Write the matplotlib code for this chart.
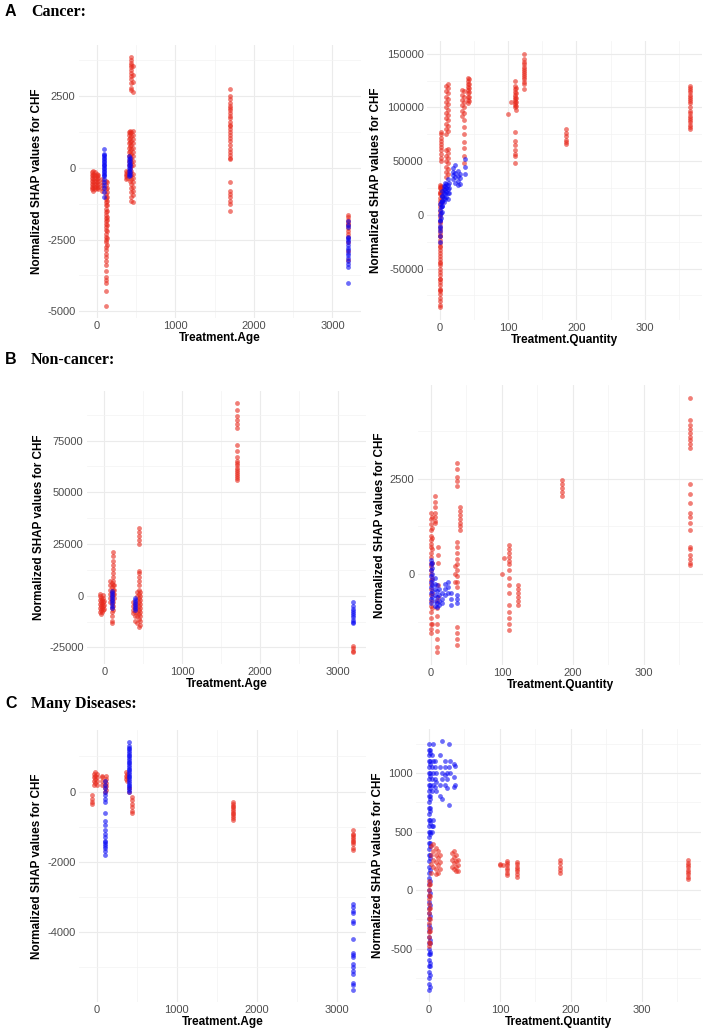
import numpy as np
import matplotlib
matplotlib.use("Agg")
import matplotlib.pyplot as plt
from matplotlib.ticker import MultipleLocator, FormatStrFormatter

plt.rcParams['font.family'] = ['Liberation Sans', 'DejaVu Sans']
plt.rcParams['axes.unicode_minus'] = False

RED = '#E8291C'
BLUE = '#0A0AF5'
W, H = 708, 1032

# ---- data: (x, [y values]) ----
# A: Cancer, Treatment.Age
a_age_red = [
    (-65, [-150, -250, -350, -450, -550, -650, -750]),
    (-45, [-100, -200, -300, -400, -500, -600, -700, -800]),
    (-25, [-150, -250, -350, -450, -550, -650, -750]),
    (-5, [-200, -300, -400, -500, -600, -700]),
    (15, [-250, -350, -450, -550, -650, -750]),
    (70, [-400, -500, -600, -700, -800]),
    (115, [-450, -600, -750, -900, -1000, -1100, -1200, -1300, -1450, -1550, -1650, -1750,
           -1850, -1950, -2050, -2150, -2300, -2400, -2500, -2600, -2750, -2850, -3000,
           -3100, -3250, -3400, -3600, -3800, -3900, -4000, -4300, -4800]),
    (130, [-500, -700, -850, -1000, -1150, -1300, -1500, -1700, -1800, -2000, -2200, -2450, -2700]),
    (370, [-100, -200, -300, -400]),
    (385, [-150, -250, -350]),
    (410, [100, 250, 400, 550, 700, 850, 1000, 1150, 1250, -100, -200]),
    (425, [0, 150, 300, 450, 600, 750, 900, 1050, 1200, 1300, -150, -300, -450]),
    (440, [50, 200, 350, 500, 650, 800, 950, 1100, 1250, -100, -250, -400, -550, -700, -850,
           -1000, -1150, 2700, 2800, 2950, 3100, 3200, 3300, 3400, 3500, 3600, 3650, 3750, 3850]),
    (455, [100, 250, 400, 550, 700, 850, 1000, 1150, 1300, -200, -350, -500, -650, -800, -950,
           -1200, 2650, 3000, 3250, 3550]),
    (1700, [2750, 2500, 2400, 2250, 2150, 2100, 2000, 1900, 1800, 1750, 1600, 1500, 1450, 1350,
            1250, 1150, 1050, 950, 800, 650, 550, 450, 350, 300, -500, -800, -900, -1000,
            -1150, -1250, -1500]),
    (3200, [-1650, -1720, -1800, -1870, -1950, -2000, -2100, -2200, -2300, -2400, -2600, -2900, -3200]),
]
a_age_blue = [
    (95, [650, 500, 450, 400, 350, 300, 250, 200, 150, 100, 50, 0, -50, -100, -150, -200, -250,
          -300, -400, -500, -600, -700, -850, -1000]),
    (405, [400, 300, 200, 100, 0, -100, -200, -300]),
    (415, [350, 250, 150, 50, -50, -150, -250]),
    (3200, [-1850, -2000, -2050, -2400, -2450, -2500, -2600, -2700, -2800, -2850, -2950, -3050,
            -3150, -3250, -3350, -3450, -4000]),
]

# A: Cancer, Treatment.Quantity
a_qty_red = [
    (0, [-86000, -83500, -80000, -77500, -74000, -71000, -68500, -65000, -62000, -59500, -56000,
         -53000, -50500, -47000, -44000, -41500, -38000, -35000, -32500, -29000, -26000, -23500,
         -20000, -17000, -14500, -11000, -8000, -5500, -2000, 1000, 3500, 7000, 10000, 12500,
         16000, 19000, 21500, 25000, 28000]),
    (1, [-70000, -60000, -45000, -30000, -20000, 20000, 26000]),
    (2, [50000, 53000, 57000, 60000, 63000, 66000, 69000, 72000, 75000, 77000, 20000, 24000, 27000]),
    (4, [12000, 17000, 22000, 26000]),
    (10, [75000, 80000, 85000, 90000, 95000, 100000, 105000, 110000, 115000, 120000,
          35000, 40000, 45000, 50000, 55000, 60000]),
    (12, [78000, 83000, 88000, 93000, 98000, 103000, 108000, 113000, 118000, 122000,
          38000, 43000, 48000, 53000, 58000, 61000]),
    (33, [92000, 97000, 102000, 107000, 112000, 116000]),
    (36, [95000, 100000, 105000, 110000, 115000, 88000, 82000, 75000, 68000, 62000, 55000, 48000]),
    (41, [104000, 107000, 110000, 113000, 116000, 119000, 122000, 125000, 127000]),
    (43, [106000, 110000, 114000, 118000, 122000, 126000]),
    (100, [94000]),
    (104, [105000]),
    (110, [125000, 120000, 117000, 114000, 112000, 110000, 108000, 106000, 104000, 102000, 100000,
           77000, 69000, 65000, 60000, 57000, 55000, 48000]),
    (112, [118000, 113000, 109000, 105000, 101000, 98000]),
    (124, [150000, 145000, 142000, 140000, 138000, 136000, 134000, 132000, 130000, 128000, 126000,
           124000, 122000, 117000]),
    (185, [80000, 76000, 73000, 70000, 68000, 66000]),
    (365, [120000, 118000, 116000, 114000, 112000, 110000, 108000, 106000, 104000, 100000, 97000,
           95000, 92000, 90000, 88000, 86000, 84000, 82000, 80000]),
]
a_qty_blue = [
    (0, [-25000, -20000, -15000, -10000, -5000]),
    (1, [-12000, -6000, 0, 5000, 10000]),
    (2, [-3000, 2000, 7000, 12000]),
    (3, [3000, 8000, 13000, 18000]),
    (4, [8000, 13000, 18000, 22000]),
    (6, [12000, 16000, 20000, 24000, 27000]),
    (8, [15000, 19000, 23000, 27000, 30000]),
    (10, [17000, 21000, 25000, 29000]),
    (12, [15000, 20000, 24000, 28000, 33000]),
    (14, [20000, 25000, 30000]),
    (20, [33000, 37000, 40000, 44000]),
    (23, [30000, 35000, 39000, 46000]),
    (27, [28000, 32000, 36000, 41000]),
    (30, [29000, 34000, 38000]),
    (37, [38000, 45000, 52000]),
]

# B: Non-cancer, Treatment.Age
b_age_red = [
    (-60, [-8000, -6000, -4000, -2000, 0, 1000]),
    (-45, [-9000, -7000, -5000, -3000, -1000]),
    (-30, [-8000, -6000, -4000, -2000]),
    (-15, [-7000, -5000, -3000, -1000, 500]),
    (0, [-6500, -4500, -2500]),
    (75, [-3000, -1000, 1000, 3000, 5000, 7000]),
    (95, [-2000, 0, 2000, 4000, 6000, -4000, -6000, -8000, -10000, -12000, -13000]),
    (110, [1000, 3000, 5000, 7000, 9000, 11000, 13000, 15000, 17000, 19000, 21000, -3000, -5000, -7000]),
    (120, [-1000, 1000, 3000, 5000]),
    (370, [-3000, -5000, -7000, -8500]),
    (390, [-4000, -6000, -8000, -10000, -12000]),
    (420, [-2000, 0, 2000, -4000, -6000, -8000, -10000, -13000]),
    (440, [-1000, 1000, 3000, 5000, 7000, 9000, 11000, 12000, 25000, 27000, 29000, 31000, 33000,
           -3000, -5000, -7000, -9000, -11000, -15000]),
    (455, [-2000, 0, 2000, -4000, -6000, -8000, -10000, -12000, -14000]),
    (1700, [93000, 90000, 87000, 85000, 83000, 81000, 73000, 70000, 67000, 65000, 64000, 63000,
            62000, 61000, 60000, 59000, 58000, 57000, 56000]),
    (3200, [-24500, -25500, -26500, -27000]),
]
b_age_blue = [
    (100, [2500, 1500, 500, -500, -1500, -2500, -3500, -5000, -6000]),
    (400, [-1000, -2000, -3000, -4000, -5000, -6000, -6800]),
    (3200, [-3000, -5000, -6500, -7500, -8500, -9500, -10500, -11500, -12500, -13000]),
]

# B: Non-cancer, Treatment.Quantity
b_qty_red = [
    (0, [1600, 1450, 1300, 1150, 1000, 900, 800, 700, 550, 450, 300, 200, 100, 0, -150, -250, -400,
         -550, -700, -850, -1000, -1150, -1300, -1450, -1550]),
    (2, [1500, 1200, 950, 650, 300, -100, -500, -900, -1300]),
    (6, [2050, 1900, 1750, 1600, 1500, 1400, 1350]),
    (8, [-700, -900, -1100, -1300, -1500, -1700, -1900, -2050]),
    (10, [700, 500, 300, -300, -600]),
    (34, [200, 0, -200]),
    (36, [2900, 2750, 2550, 2450, 2300, 850, 700, 550, 400, 250, 100, -50, -200, -350,
          -1400, -1550, -1700, -1850]),
    (41, [1750, 1650, 1550, 1450, 1350, 1250, 1150]),
    (100, [0]),
    (103, [420]),
    (110, [760, 650, 550, 450, 350, 250, 100, -100, -300, -500, -800, -1000, -1150, -1300, -1470]),
    (123, [-300, -400, -500, -600, -700, -800]),
    (185, [2470, 2350, 2250, 2150, 2050]),
    (365, [4620, 4040, 3900, 3800, 3700, 3600, 3500, 3400, 3300, 2360, 2100, 1850, 1600, 1500,
           1350, 1150, 710, 650, 500, 400, 300, 240]),
]
b_qty_blue = [
    (0, [370, 250, 100, -50, -200, -350, -500, -650, -760]),
    (2, [300, 150, 0, -150, -300, -450, -600]),
    (5, [-100, -250, -400, -550, -700, -850]),
    (8, [-300, -450, -600, -750, -870]),
    (12, [-400, -550, -700, -800]),
    (15, [-500, -650, -750]),
    (20, [-250, -400, -550]),
    (24, [-200, -350, -500]),
    (28, [-500, -650, -800]),
    (37, [-550, -650, -770]),
]

# C: Many Diseases, Treatment.Age
c_age_red = [
    (-60, [-100, -200, -300, -350]),
    (-40, [200, 300, 400, 500]),
    (-20, [250, 350, 450, 550]),
    (0, [200, 300, 400, 500]),
    (70, [200, 300, 400, 450]),
    (100, [0, 100, 200, 300]),
    (120, [50, 150, 250, 350, 450]),
    (360, [350, 450, 550]),
    (380, [300, 400, 500]),
    (405, [0, 100]),
    (440, [-150, -250, -350, -450, -550, -620]),
    (1700, [-300, -350, -400, -450, -500, -550, -600, -650, -700, -750, -820]),
    (3200, [-1100, -1200, -1250, -1300, -1350, -1400, -1450, -1500, -1600, -1660]),
]
c_age_blue = [
    (100, [300, 200, 100, 0, -100, -200, -300, -600, -850, -950, -1100, -1200, -1300, -1400,
           -1450, -1500, -1550, -1600, -1700, -1800]),
    (405, [1400, 1300, 1250, 1200, 1150, 1100, 1050, 1000, 950, 900, 850, 800, 750, 700, 650, 600,
           550, 500, 450, 400, 350, 300, 250, 200, 150, 100, 50, 0]),
    (3200, [-3200, -3300, -3400, -3450, -3700, -3750, -4200, -4600, -4650, -4700, -4900, -5000,
            -5100, -5200, -5450, -5500, -5640]),
]

# C: Many Diseases, Treatment.Quantity
c_qty_blue = [
    (0, [1250, 1200, 1150, 1100, 1050, 1000, 950, 900, 850, 800, 750, 700, 650, 600, 550, 500, 450,
         400, 350, 300, 250, 200, 150, 100, 50, 0, -50, -100, -150, -200, -250, -300, -350, -400,
         -450, -500, -550, -600, -650, -700, -750, -800, -850]),
    (1, [1175, 1075, 975, 875, 775, 675, 575, 475, 375, 275, 175, 75, -25, -125, -225, -325,
         -425, -525, -625, -725, -825]),
    (2, [1200, 1100, 1000, 900, 800, 700, 600, 500, 400, 300, -450, -550, -650]),
    (4, [1150, 1050, 950, 850, 550, 500]),
    (6, [1250, 1100, 1000, 900, 600, 550]),
    (8, [1100, 1050, 950, 880]),
    (10, [1000, 920, 850]),
    (15, [1150, 1050, 900, 800]),
    (18, [1270, 1000, 950, 780]),
    (22, [1100, 1050, 980, 900]),
    (25, [1000, 950, 870]),
    (28, [1250, 1050, 730]),
    (30, [1100, 1000]),
    (35, [1080, 970, 880]),
    (37, [1060, 900]),
]
c_qty_red = [
    (0, [80, 40, 0, -40, -80, -120, -160, -200, -240, -280, -320, -360, -400, -440, -480]),
    (1, [50, -50, -150, -250, -350, -450]),
    (3, [380, 300, 220, 150]),
    (6, [390, 330, 260, 200]),
    (10, [360, 300, 240, 180, 140]),
    (13, [330, 270, 210, 150]),
    (15, [300, 240, 180]),
    (32, [320, 260, 200]),
    (35, [330, 280, 230, 180]),
    (38, [300, 250, 200, 160]),
    (41, [260, 210, 160]),
    (100, [220, 210]),
    (104, [215]),
    (110, [250, 230, 210, 190, 170, 150, 130]),
    (124, [240, 220, 200, 180, 160, 140, 115]),
    (184, [255, 230, 200, 175, 150]),
    (365, [255, 235, 215, 195, 175, 155, 135, 115, 95]),
]


def expand(clusters):
    xs, ys = [], []
    for x, vals in clusters:
        xs += [x] * len(vals)
        ys += vals
    return np.array(xs, float), np.array(ys, float)


def panel(box, red, blue, xstep, ystep, xlabel, red_on_top=False):
    l, t, r, b = box
    ax = fig.add_axes([l / W, 1 - b / H, (r - l) / W, (b - t) / H])
    rx, ry = expand(red)
    bx, by = expand(blue)
    layers = [(bx, by, BLUE), (rx, ry, RED)] if red_on_top else [(rx, ry, RED), (bx, by, BLUE)]
    for i, (x, y, c) in enumerate(layers):
        ax.scatter(x, y, s=12, c=c, alpha=0.6, linewidths=0, zorder=3 + i)
    ax.margins(0.05)
    ax.xaxis.set_major_locator(MultipleLocator(xstep))
    ax.xaxis.set_minor_locator(MultipleLocator(xstep / 2))
    ax.yaxis.set_major_locator(MultipleLocator(ystep))
    ax.yaxis.set_minor_locator(MultipleLocator(ystep / 2))
    ax.xaxis.set_major_formatter(FormatStrFormatter('%d'))
    ax.yaxis.set_major_formatter(FormatStrFormatter('%d'))
    ax.grid(which='major', color='#EBEBEB', lw=0.8, zorder=0)
    ax.grid(which='minor', color='#F3F3F3', lw=0.5, zorder=0)
    ax.set_axisbelow(True)
    for s in ax.spines.values():
        s.set_visible(False)
    ax.tick_params(which='both', length=0, labelsize=8, labelcolor='#4D4D4D', pad=2.5)
    ax.set_xlabel(xlabel, fontsize=8.5, fontweight='bold', labelpad=0.5)
    ax.set_ylabel('Normalized SHAP values for CHF', fontsize=8.5, fontweight='bold', labelpad=3)
    return ax


fig = plt.figure(figsize=(W / 100, H / 100), dpi=100)

panel((79, 45, 361, 318), a_age_red, a_age_blue, 1000, 2500, 'Treatment.Age')
panel((427, 41, 702, 320), a_qty_red, a_qty_blue, 100, 50000, 'Treatment.Quantity')
panel((87, 391, 366, 664), b_age_red, b_age_blue, 1000, 25000, 'Treatment.Age')
panel((418, 385, 703, 665), b_qty_red, b_qty_blue, 100, 2500, 'Treatment.Quantity')
panel((79, 730, 366, 1002), c_age_red, c_age_blue, 1000, 2000, 'Treatment.Age')
panel((416, 729, 701, 1002), c_qty_red, c_qty_blue, 100, 500, 'Treatment.Quantity', red_on_top=True)

for letter, title, y in [('A', 'Cancer:', 12), ('B', 'Non-cancer:', 360), ('C', 'Many Diseases:', 704)]:
    fig.text(5 / W, 1 - y / H, letter, fontsize=11.5, fontweight='bold', va='center')
    fig.text(31 / W, 1 - y / H, title, fontsize=11.5, fontweight='bold', va='center',
             family='Liberation Serif')

fig.savefig('out.png', dpi=100)
